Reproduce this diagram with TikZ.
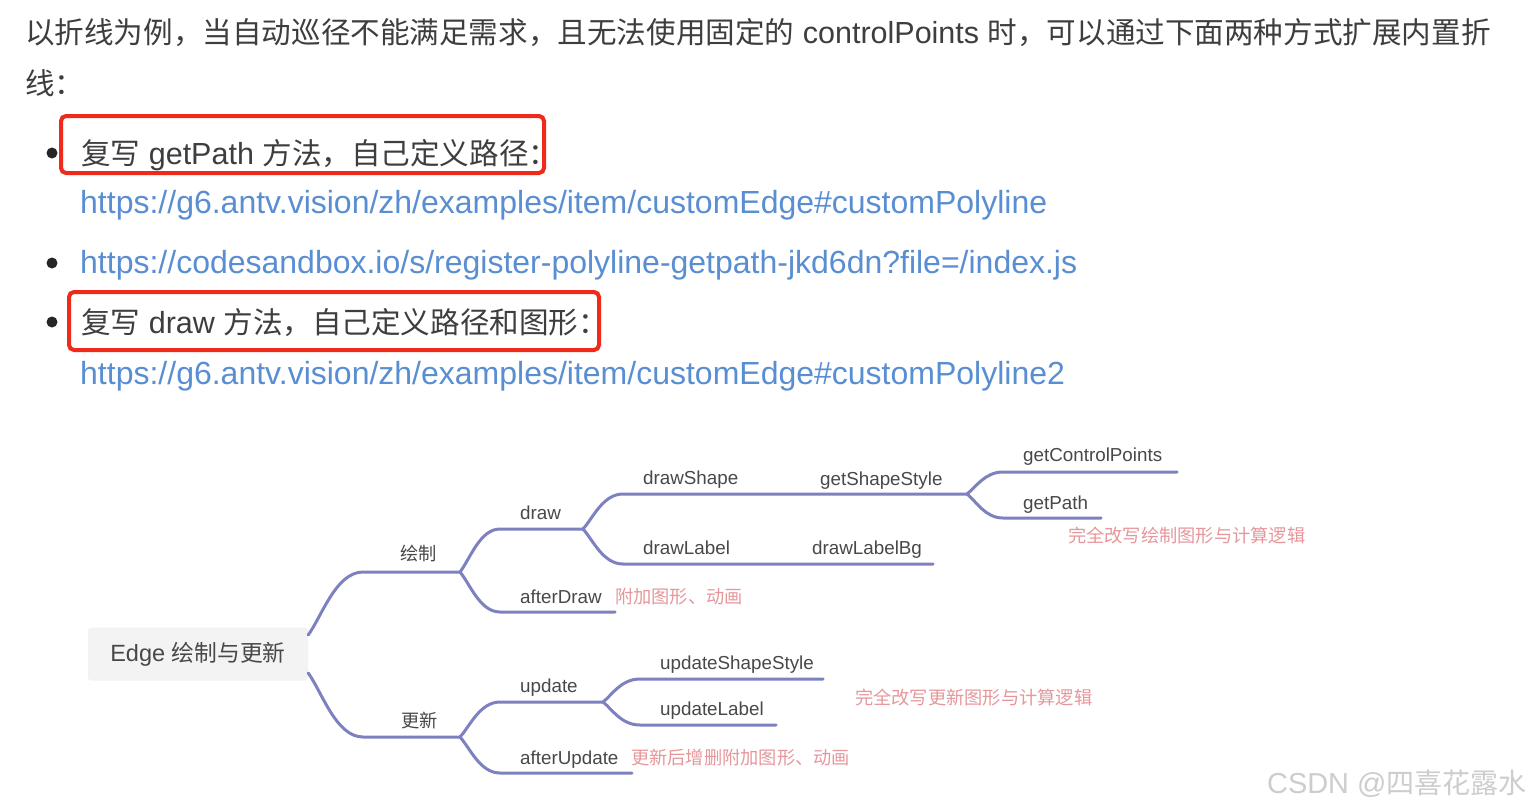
\documentclass[tikz,border=0pt]{standalone}
\usepackage{fontspec}
\setmainfont{Liberation Sans}
\newfontfamily\cjk[Scale=0.97]{Noto Sans CJK SC}
\usepackage{tikz}

\definecolor{bodytext}{HTML}{3E3E3E}
\definecolor{linkblue}{HTML}{5A8ED2}
\definecolor{boxred}{HTML}{F02A1A}
\definecolor{mindpurple}{HTML}{7E81C0}
\definecolor{notered}{HTML}{E6979B}
\definecolor{mmtext}{HTML}{484848}
\definecolor{rootfill}{HTML}{F3F3F3}
\definecolor{markgray}{HTML}{CDCDCD}

\begin{document}
\begin{tikzpicture}[x=1pt, y=-1pt,
                txt/.style={anchor=base west, inner sep=0pt, text=bodytext, font=\fontsize{30.5pt}{36pt}\selectfont},
                link/.style={txt, text=linkblue, font=\fontsize{32pt}{36pt}\selectfont},
                bullet/.style={circle, fill=black!85, inner sep=0pt, minimum size=11pt},
                redbox/.style={draw=boxred, line width=4pt, rounded corners=5pt},
                mmlabel/.style={anchor=base west, inner sep=0pt, text=mmtext, font=\fontsize{18.8pt}{22pt}\selectfont},
                mmnote/.style={mmlabel, text=notered},
                mmline/.style={draw=mindpurple, line width=3pt, line cap=round}]
                \path[use as bounding box, fill=white] (0,0) rectangle (1529,808);

                % Text
                \node[txt] (intro) at (25,44) {{\cjk 以折线为例，当自动巡径不能满足需求，且无法使用固定的} controlPoints {\cjk 时，可以通过下面两种方式扩展内置折}};
                \node[txt] (intro2) at (25,94) {{\cjk 线：}};

                % Bullets
                \node[bullet] (b1) at (52,153) {};
                \node[bullet] (b2) at (52,263) {};
                \node[bullet] (b3) at (52,322) {};
                \node[txt] (way1) at (81,164) {{\cjk 复写} getPath {\cjk 方法，自己定义路径：}};
                \node[link] (link1) at (80,213) {https://g6.antv.vision/zh/examples/item/customEdge\#customPolyline};
                \node[link] (link2) at (80,273) {https://codesandbox.io/s/register-polyline-getpath-jkd6dn?file=/index.js};
                \node[txt] (way2) at (81,333) {{\cjk 复写} draw {\cjk 方法，自己定义路径和图形：}};
                \node[link] (link3) at (80,384) {https://g6.antv.vision/zh/examples/item/customEdge\#customPolyline2};
                \draw[redbox] (61,116) rectangle (544,173);
                \draw[redbox] (69,292) rectangle (599,350);

                % Mind map nodes
                \node[fill=rootfill, rounded corners=3pt, minimum width=220pt, minimum height=53pt, inner sep=0pt,
                      text=mmtext, font=\fontsize{23.5pt}{27pt}\selectfont] (root) at (198,654) {Edge {\cjk 绘制与更新}};
                \node[mmlabel] (huizhi) at (400,560) {\cjk 绘制};
                \node[mmlabel] (gengxin) at (401,727) {\cjk 更新};
                \node[mmlabel] (draw) at (520,519) {draw};
                \node[mmlabel] (afterDraw) at (520,603) {afterDraw};
                \node[mmnote] (noteAfterDraw) at (615,603) {\cjk 附加图形、动画};
                \node[mmlabel] (drawShape) at (643,484) {drawShape};
                \node[mmlabel] (getShapeStyle) at (820,485) {getShapeStyle};
                \node[mmlabel] (drawLabel) at (643,554) {drawLabel};
                \node[mmlabel] (drawLabelBg) at (812,554) {drawLabelBg};
                \node[mmlabel] (getControlPoints) at (1023,461) {getControlPoints};
                \node[mmlabel] (getPath) at (1023,509) {getPath};
                \node[mmnote] (noteDraw) at (1068,542) {\cjk 完全改写绘制图形与计算逻辑};
                \node[mmlabel] (update) at (520,692) {update};
                \node[mmlabel] (updateShapeStyle) at (660,669) {updateShapeStyle};
                \node[mmlabel] (updateLabel) at (660,715) {updateLabel};
                \node[mmnote] (noteUpdate) at (855,704) {\cjk 完全改写更新图形与计算逻辑};
                \node[mmlabel] (afterUpdate) at (520,764) {afterUpdate};
                \node[mmnote] (noteAfterUpdate) at (631,764) {\cjk 更新后增删附加图形、动画};

                % Junctions and line ends
                \coordinate (j1) at (460,572);
                \coordinate (j2) at (460,737);
                \coordinate (j3) at (583,529);
                \coordinate (j4) at (967,494);
                \coordinate (j5) at (603,702);
                \coordinate (endAfterDraw) at (615,612);
                \coordinate (endDrawLabel) at (933,564);
                \coordinate (endControl) at (1177,472);
                \coordinate (endPath) at (1101,518);
                \coordinate (endShapeStyle) at (823,679);
                \coordinate (endLabel) at (776,725);
                \coordinate (endAfterUpdate) at (632,773);

                % Edges
                \draw[mmline] ([yshift=19pt]root.east) .. controls (322,616) and (336,572) .. (363,572) -- (j1);
                \draw[mmline] ([yshift=-19pt]root.east) .. controls (322,692) and (336,737) .. (363,737) -- (j2);
                \draw[mmline] (j1) .. controls (470,559) and (480,529) .. (500,529) -- (j3);
                \draw[mmline] (j1) .. controls (470,584) and (480,612) .. (500,612) -- (endAfterDraw);
                \draw[mmline] (j3) .. controls (593,518) and (603,494) .. (623,494) -- (j4);
                \draw[mmline] (j3) .. controls (593,540) and (603,564) .. (623,564) -- (endDrawLabel);
                \draw[mmline] (j4) .. controls (976,487) and (985,472) .. (1003,472) -- (endControl);
                \draw[mmline] (j4) .. controls (976,501) and (985,518) .. (1003,518) -- (endPath);
                \draw[mmline] (j2) .. controls (470,726) and (480,702) .. (500,702) -- (j5);
                \draw[mmline] (j2) .. controls (470,748) and (480,773) .. (500,773) -- (endAfterUpdate);
                \draw[mmline] (j5) .. controls (612,695) and (621,679) .. (640,679) -- (endShapeStyle);
                \draw[mmline] (j5) .. controls (612,709) and (621,725) .. (640,725) -- (endLabel);

                % Watermark
                \node[anchor=base west, inner sep=0pt, text=markgray, font=\fontsize{28.9pt}{32pt}\selectfont] (mark) at (1267,793) {CSDN @{\cjk 四喜花露水}};
            \end{tikzpicture}
\end{document}
